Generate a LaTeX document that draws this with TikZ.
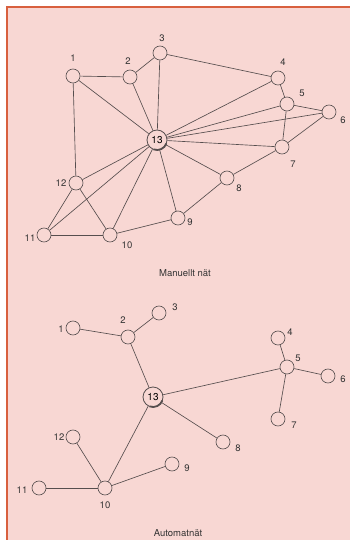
\documentclass[tikz,border=0pt]{standalone}
\usepackage{fontspec}
\setmainfont{TeX Gyre Heros}
\definecolor{bgpink}{HTML}{F8D7D3}
\definecolor{framec}{HTML}{D8603E}
\definecolor{edgec}{HTML}{564E4E}
\tikzset{
  nd/.style={circle,draw=edgec,fill=bgpink,line width=0.65pt,minimum size=14pt,inner sep=0pt},
  hub/.style={circle,draw=edgec,fill=bgpink,line width=0.8pt,minimum size=20pt,inner sep=0pt,font=\fontsize{10}{11}\selectfont},
  lbl/.style={font=\fontsize{9.5}{11}\selectfont,text=black!80,inner sep=0pt},
  ed/.style={draw=edgec,line width=0.65pt},
  captxt/.style={font=\fontsize{9.5}{11}\selectfont,text=black!80,inner sep=0pt}
}
\begin{document}
\begin{tikzpicture}[x=1pt,y=-1pt]
\useasboundingbox (0,0) rectangle (350,540);
\fill[white] (0,0) rectangle (350,540);
\fill[bgpink] (7,7) rectangle (350,540);
\draw[framec,line width=1.6pt] (7,540) -- (7,7) -- (350,7);
% ---------- Manuellt nat ----------
\begin{scope}
\node[nd] (a1) at (73,76) {};
\node[nd] (a2) at (130,77) {};
\node[nd] (a3) at (160,53) {};
\node[nd] (a4) at (278,78) {};
\node[nd] (a5) at (287,104) {};
\node[nd] (a6) at (329,112) {};
\node[nd] (a7) at (282,147) {};
\node[nd] (a8) at (227,178) {};
\node[nd] (a9) at (178,218) {};
\node[nd] (a10) at (110,235) {};
\node[nd] (a11) at (44,235) {};
\node[nd] (a12) at (76,183) {};
\node[hub] (a13) at (157,140) {13};
\draw[edgec,line width=1.8pt] ([shift={(-20:10pt)}]a13.center) arc[start angle=-20,end angle=-110,radius=10pt];
\foreach \i in {1,...,12} {\draw[ed] (a13) -- (a\i);}
\foreach \u/\v in {1/2,2/3,3/4,4/5,5/6,5/7,6/7,7/8,8/9,9/10,10/11,11/12,12/10,1/12} {\draw[ed] (a\u) -- (a\v);}
\node[lbl] (la1) at (73,58) {1};
\node[lbl] (la2) at (128,61) {2};
\node[lbl] (la3) at (162,38) {3};
\node[lbl] (la4) at (283,62) {4};
\node[lbl] (la5) at (302,93) {5};
\node[lbl] (la6) at (343,120) {6};
\node[lbl] (la7) at (293,164) {7};
\node[lbl] (la8) at (239,188) {8};
\node[lbl] (la9) at (190,222) {9};
\node[lbl] (la10) at (127,245) {10};
\node[lbl] (la11) at (30,238) {11};
\node[lbl] (la12) at (61,183) {12};
\node[captxt] (c1) at (185,273) {Manuellt nät};
\end{scope}
% ---------- Automatnat ----------
\begin{scope}
\node[nd] (b1) at (73,328) {};
\node[nd] (b2) at (128,337) {};
\node[nd] (b3) at (159,313) {};
\node[nd] (b4) at (278,338) {};
\node[nd] (b5) at (287,367) {};
\node[nd] (b6) at (328,376) {};
\node[nd] (b7) at (278,419) {};
\node[nd] (b8) at (223,442) {};
\node[nd] (b9) at (172,464) {};
\node[nd] (b10) at (105,488) {};
\node[nd] (b11) at (39,488) {};
\node[nd] (b12) at (73,437) {};
\node[hub] (b13) at (153,397) {13};
\draw[edgec,line width=1.8pt] ([shift={(-20:10pt)}]b13.center) arc[start angle=-20,end angle=-110,radius=10pt];
\foreach \u/\v in {1/2,2/3,2/13,13/5,5/4,5/6,5/7,13/8,13/10,10/12,10/11,10/9} {\draw[ed] (b\u) -- (b\v);}
\node[lbl] (lb1) at (61,329) {1};
\node[lbl] (lb2) at (123,320) {2};
\node[lbl] (lb3) at (175,307) {3};
\node[lbl] (lb4) at (290,332) {4};
\node[lbl] (lb5) at (298,358) {5};
\node[lbl] (lb6) at (343,379) {6};
\node[lbl] (lb7) at (294,425) {7};
\node[lbl] (lb8) at (238,448) {8};
\node[lbl] (lb9) at (187,468) {9};
\node[lbl] (lb10) at (105,505) {10};
\node[lbl] (lb11) at (22,490) {11};
\node[lbl] (lb12) at (59,437) {12};
\node[captxt] (c2) at (178,533) {Automatnät};
\end{scope}
\end{tikzpicture}
\end{document}
